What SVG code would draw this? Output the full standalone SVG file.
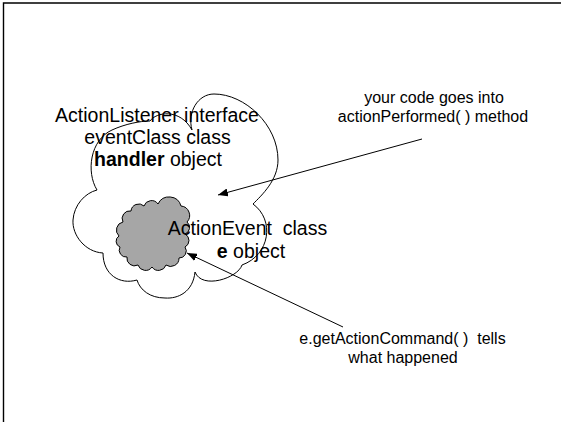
<svg xmlns="http://www.w3.org/2000/svg" width="561" height="422" viewBox="0 0 561 422">
  <style>
    .frame { fill: none; stroke: #000; stroke-width: 1.4; }
    .cloud { fill: #fff; stroke: #000; stroke-width: 1; }
    .cloud-inner { fill: #a6a6a6; stroke: #000; stroke-width: 1; }
    .conn { fill: none; stroke: #000; stroke-width: 1; }
    .big { font-family: "Liberation Sans", Arial, sans-serif; font-size: 19.5px; fill: #000; text-anchor: middle; }
    .small { font-family: "Liberation Sans", Arial, sans-serif; font-size: 16px; fill: #000; text-anchor: middle; }
    .b { font-weight: bold; }
  </style>
  <defs>
    <marker id="arrow" viewBox="0 0 10 8" refX="10" refY="4" markerWidth="10" markerHeight="8" markerUnits="userSpaceOnUse" orient="auto">
      <path d="M0,0 L10,4 L0,8 z" fill="#000"/>
    </marker>
  </defs>

  <rect width="561" height="422" fill="#fff"/>
  <!-- slide frame -->
  <path class="frame" d="M3.5,422 V3 H561"/>

  <!-- handler object: outer cloud -->
  <g id="handler">
    <path class="cloud" d="M97,190
      C 86,172 90,140 112,130
      C 125,124 140,121 150,121
      C 156,112 180,108 192,130
      C 187,112 198,94 214,94
      C 245,94 278,125 278,160
      C 278,180 262,195 253,204
      C 275,220 270,255 242,265
      C 238,278 202,290 195,272
      C 193,292 178,299 165,298
      C 150,298 140,290 137,280
      C 120,285 103,275 103,253
      C 85,252 72,235 73,220
      C 74,205 85,193 97,190 Z"/>
    <text class="big" x="157" y="121.5">ActionListener interface</text>
    <text class="big" x="157.5" y="143.5">eventClass class</text>
    <text class="big" x="158" y="165.5"><tspan class="b">handler</tspan> object</text>
  </g>

  <!-- e object: inner grey cloud -->
  <g id="event">
    <path class="cloud-inner" d="M119,236
      A8.2,8.2 0 0 1 123,222
      A7.6,7.6 0 0 1 131,211
      A7.8,7.8 0 0 1 144,206
      A7.9,7.9 0 0 1 158,204
      A12.3,12.3 0 0 1 181,206
      A9.5,9.5 0 0 1 187,222
      A7,7 0 0 1 185,234
      A7.3,7.3 0 0 1 185,247
      A7,7 0 0 1 179,258
      A8.3,8.3 0 0 1 166,265
      A7.9,7.9 0 0 1 152,267
      A7.9,7.9 0 0 1 138,265
      A7.6,7.6 0 0 1 127,257
      A6.9,6.9 0 0 1 120,247
      A6.2,6.2 0 0 1 119,236 Z"/>
    <text class="big" x="247.5" y="235" xml:space="preserve">ActionEvent  class</text>
    <text class="big" x="251" y="257.5"><tspan class="b">e</tspan> object</text>
  </g>

  <!-- callout labels -->
  <g id="note-performed">
    <text class="small" x="434" y="102.5">your code goes into</text>
    <text class="small" x="433" y="121.5">actionPerformed( ) method</text>
  </g>
  <g id="note-command">
    <text class="small" x="402.5" y="343.5" xml:space="preserve">e.getActionCommand( )  tells</text>
    <text class="small" x="403" y="362.5">what happened</text>
  </g>

  <!-- connectors -->
  <g id="connectors">
    <line class="conn" x1="422" y1="139" x2="218" y2="195" marker-end="url(#arrow)"/>
    <line class="conn" x1="343" y1="327" x2="187" y2="253" marker-end="url(#arrow)"/>
  </g>
</svg>
